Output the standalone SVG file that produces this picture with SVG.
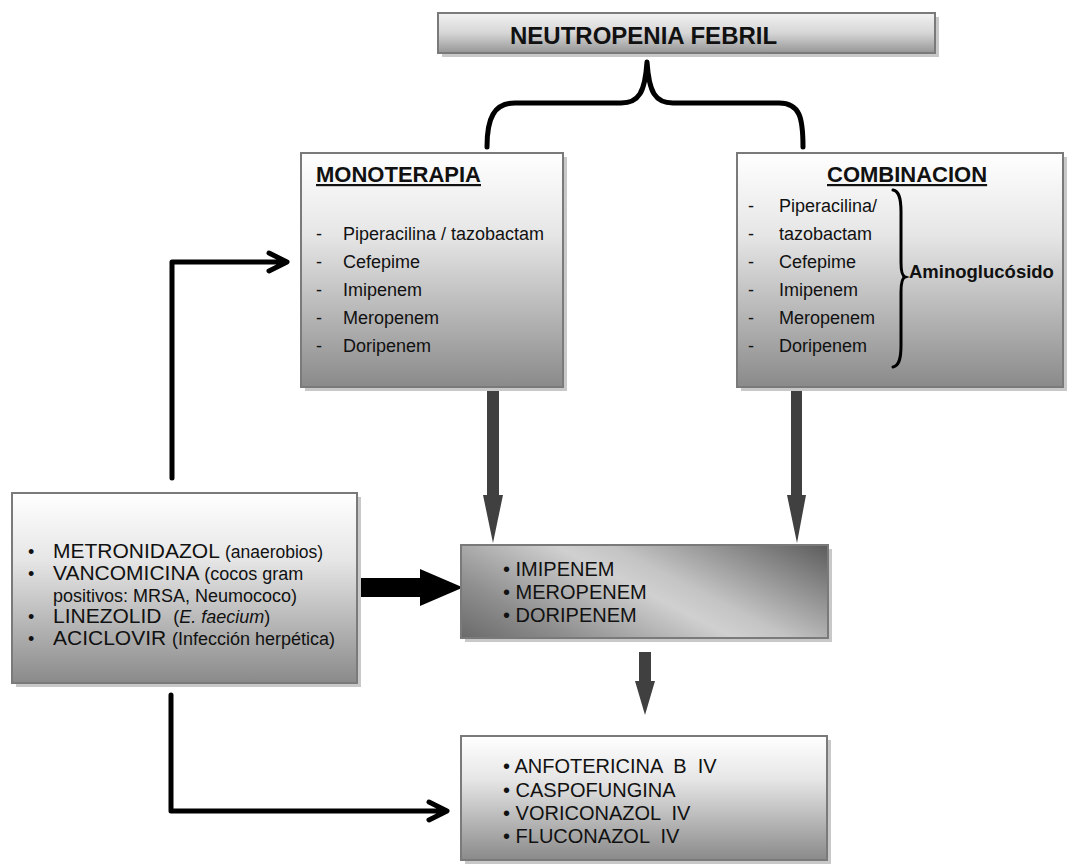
<svg xmlns="http://www.w3.org/2000/svg" width="1067" height="864" viewBox="0 0 1067 864">
<defs>
<linearGradient id="gV" x1="0" y1="0" x2="0" y2="1">
<stop offset="0" stop-color="#ffffff"/>
<stop offset="0.35" stop-color="#e6e6e6"/>
<stop offset="1" stop-color="#8a8a8a"/>
</linearGradient>
<linearGradient id="gT" x1="0" y1="0" x2="0" y2="1">
<stop offset="0" stop-color="#f2f2f2"/>
<stop offset="0.5" stop-color="#d6d6d6"/>
<stop offset="1" stop-color="#959595"/>
</linearGradient>
<linearGradient id="gM" gradientUnits="userSpaceOnUse" x1="461" y1="638" x2="576" y2="415">
<stop offset="0" stop-color="#6a6a6a"/>
<stop offset="0.2" stop-color="#8e8e8e"/>
<stop offset="0.5" stop-color="#d0d0d0"/>
<stop offset="0.6" stop-color="#c4c4c4"/>
<stop offset="1" stop-color="#5c5c5c"/>
</linearGradient>
<style>
.box{stroke:#7a7a7a;stroke-width:2}
.sh{fill:#c8c8c8}
.t{font-family:"Liberation Sans",Arial,sans-serif;fill:#111}
.b{font-weight:bold}
.pre{white-space:pre}
.blk{fill:none;stroke:#000;stroke-width:5;stroke-linecap:round;stroke-linejoin:round}
.ga{fill:#404040}
</style>
</defs>

<g id="connectors">
<path class="blk" d="M487 147 C487 118 494 103 515 103 H621 C639 103 645 92 647 62 C649 92 655 103 673 103 H779 C800 103 803 118 803 147"/>
<path class="blk" d="M172 478 V262 H285 M269 253 L287 262 L269 271"/>
<path class="blk" d="M171 695 V811 H446 M429 802 L447 811 L429 820"/>
<polygon class="ga" points="487,385 499,385 499,495 503,495 493,543 483,495 487,495"/>
<polygon class="ga" points="791,385 802,385 802,495 806,495 797,543 787,495 791,495"/>
<polygon class="ga" points="639,652 651,652 651,681 655,681 645,715 635,681 639,681"/>
<polygon fill="#000" points="357,578 420,578 420,569 463,587.5 420,606 420,597 357,597"/>
</g>

<g id="n-title">
<rect class="sh" x="442" y="17" width="497" height="40"/>
<rect class="box" x="438" y="13" width="497" height="40" fill="url(#gT)"/>
<text class="t b" x="510" y="44" font-size="24">NEUTROPENIA FEBRIL</text>
</g>

<g id="n-mono">
<rect class="sh" x="305" y="157" width="262" height="234"/>
<rect class="box" x="301" y="153" width="262" height="234" fill="url(#gV)"/>
<text class="t b" x="316" y="182" font-size="22" text-decoration="underline">MONOTERAPIA</text>
<g class="t" font-size="18">
<text x="316" y="240">-</text><text x="343" y="240">Piperacilina / tazobactam</text>
<text x="316" y="268">-</text><text x="343" y="268">Cefepime</text>
<text x="316" y="296">-</text><text x="343" y="296">Imipenem</text>
<text x="316" y="324">-</text><text x="343" y="324">Meropenem</text>
<text x="316" y="352">-</text><text x="343" y="352">Doripenem</text>
</g>
</g>

<g id="n-comb">
<rect class="sh" x="741" y="157" width="326" height="234"/>
<rect class="box" x="737" y="153" width="326" height="234" fill="url(#gV)"/>
<text class="t b" x="827" y="182" font-size="22" text-decoration="underline">COMBINACION</text>
<g class="t" font-size="18">
<text x="748" y="212">-</text><text x="779" y="212">Piperacilina/</text>
<text x="748" y="240">-</text><text x="779" y="240">tazobactam</text>
<text x="748" y="268">-</text><text x="779" y="268">Cefepime</text>
<text x="748" y="296">-</text><text x="779" y="296">Imipenem</text>
<text x="748" y="324">-</text><text x="779" y="324">Meropenem</text>
<text x="748" y="352">-</text><text x="779" y="352">Doripenem</text>
</g>
<path d="M893 190 C899 191 901 198 901 212 V262 C901 271 902 276 905 277 C902 278 901 283 901 292 V345 C901 359 899 366 893 367" fill="none" stroke="#000" stroke-width="3" stroke-linecap="round"/>
<text class="t b" x="909" y="278" font-size="18.5">Aminoglucósido</text>
</g>

<g id="n-left">
<rect class="sh" x="16" y="497" width="345" height="190"/>
<rect class="box" x="12" y="493" width="345" height="190" fill="url(#gV)"/>
<g class="t">
<text x="28" y="558" font-size="18">•</text>
<text x="53" y="558" font-size="21">METRONIDAZOL <tspan font-size="17.5">(anaerobios)</tspan></text>
<text x="28" y="580" font-size="18">•</text>
<text x="53" y="580" font-size="21">VANCOMICINA <tspan font-size="18">(cocos gram</tspan></text>
<text x="53" y="602" font-size="18">positivos: MRSA, Neumococo)</text>
<text x="28" y="623" font-size="18">•</text>
<text class="pre" x="53" y="623" font-size="21">LINEZOLID  <tspan font-size="18">(<tspan font-style="italic">E. faecium</tspan>)</tspan></text>
<text x="28" y="645" font-size="18">•</text>
<text x="53" y="645" font-size="21">ACICLOVIR <tspan font-size="18">(Infección herpética)</tspan></text>
</g>
</g>

<g id="n-carba">
<rect class="sh" x="465" y="549" width="367" height="93"/>
<rect class="box" x="461" y="545" width="367" height="93" fill="url(#gM)"/>
<g class="t" font-size="20">
<text x="503" y="576">• IMIPENEM</text>
<text x="503" y="599">• MEROPENEM</text>
<text x="503" y="622">• DORIPENEM</text>
</g>
</g>

<g id="n-antif">
<rect class="sh" x="465" y="740" width="366" height="124"/>
<rect class="box" x="461" y="736" width="366" height="124" fill="url(#gV)"/>
<g class="t" font-size="20">
<text class="pre" x="503" y="773">• ANFOTERICINA  B  IV</text>
<text class="pre" x="503" y="797">• CASPOFUNGINA</text>
<text class="pre" x="503" y="820">• VORICONAZOL  IV</text>
<text class="pre" x="503" y="843">• FLUCONAZOL  IV</text>
</g>
</g>
</svg>
